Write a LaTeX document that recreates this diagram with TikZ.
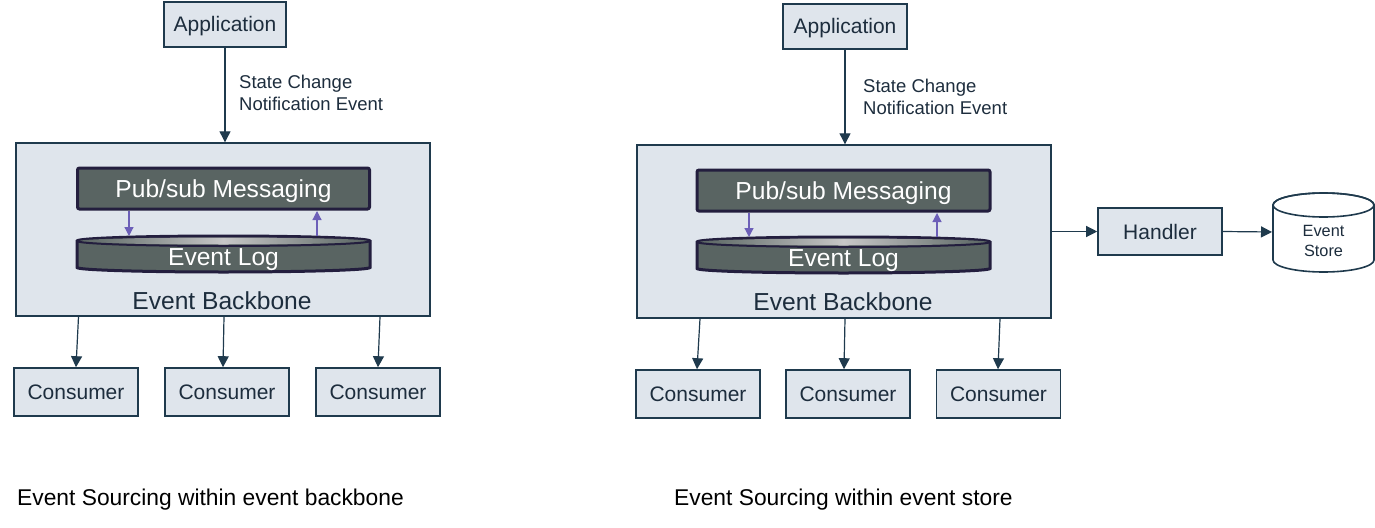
\documentclass[tikz,border=0pt]{standalone}
\usepackage{fontspec}
\setmainfont{Liberation Sans}
\usetikzlibrary{arrows.meta}
\definecolor{boxfill}{HTML}{DFE5EC}
\definecolor{boxline}{HTML}{1F3A4D}
\definecolor{txt}{HTML}{1D2D3D}
\definecolor{darkfill}{HTML}{596462}
\definecolor{darkline}{HTML}{231E3E}
\definecolor{purp}{HTML}{6C5FB8}
\newcommand\myfs[2]{\fontsize{#1}{#2}\selectfont}
\tikzset{
  tA/.style={font=\myfs{21}{25}, text height=17pt, text depth=2pt},
  tB/.style={font=\myfs{24.6}{29}, text height=19.6pt, text depth=2pt},
  box/.style={draw=boxline, fill=boxfill, line width=1.6pt, text=txt, inner sep=0pt, tA},
  backbone/.style={draw=boxline, fill=boxfill, line width=1.4pt, inner sep=0pt},
  darkbox/.style={draw=darkline, fill=darkfill, line width=3pt, rounded corners=2pt, text=white,
    inner sep=0pt, tB},
  arr/.style={draw=boxline, line width=1.2pt, -{Triangle[length=11pt,width=11pt]}},
  parr/.style={draw=purp, line width=1.2pt, -{Triangle[length=9pt,width=9pt]}},
  plain/.style={inner sep=0pt, text=txt},
}
\begin{document}
\begin{tikzpicture}[x=1pt,y=-1pt]
\useasboundingbox (0,0) rectangle (1375,527);
% ============ LEFT DIAGRAM ============
\node[box, minimum width=122, minimum height=45] (app1) at (225,24.5) {Application};
\node[plain, anchor=north west, align=left, font=\myfs{18.5}{22}] (lab1) at (239,75) {State Change\\Notification Event};
\node[backbone, minimum width=414, minimum height=173] (bb1) at (223,229.5) {};
\draw[arr] (app1.south) -- (app1.south |- bb1.north);
\node[darkbox, minimum width=292, minimum height=41] (pub1) at (223.5,188.5) {Pub/sub Messaging};
% event log cylinder
\filldraw[draw=darkline, fill=darkfill, line width=3pt]
  (77,241) -- (77,267.5) arc[start angle=180,end angle=360,x radius=146.5pt,y radius=4.5pt]
  -- (370,241) arc[start angle=0,end angle=180,x radius=146.5pt,y radius=5pt] -- cycle;
\shade[left color=darkfill, right color=darkfill, middle color=black!22]
  (223.5,241) ellipse [x radius=144pt, y radius=3.5pt];
\draw[darkline, line width=2pt] (77,241) arc[start angle=180,end angle=360,x radius=146.5pt,y radius=5pt];
\node[plain, text=white, tB] (log1) at (223.5,256.5) {Event Log};
\coordinate (log1a) at (129,236);
\coordinate (log1b) at (317,236);
\draw[parr] (log1a |- pub1.south) -- (log1a);
\draw[parr] (log1b) -- ([yshift=-0.5pt]log1b |- pub1.south);
\node[plain, tB] (bbl1) at (222,301) {Event Backbone};
% consumers
\node[box, minimum width=124, minimum height=48] (c11) at (76,392) {Consumer};
\node[box, minimum width=124, minimum height=48] (c12) at (227,392) {Consumer};
\node[box, minimum width=124, minimum height=48] (c13) at (378,392) {Consumer};
\draw[arr] ([xshift=2.5pt]c11.north |- bb1.south) -- (c11.north);
\draw[arr] ([xshift=-3pt]c12.north |- bb1.south) -- ([xshift=-4pt]c12.north);
\draw[arr] ([xshift=2pt]c13.north |- bb1.south) -- (c13.north);
\node[plain, text=black, anchor=west, font=\myfs{22.8}{27}] (cap1) at (17,500) {Event Sourcing within event backbone};
% ============ RIGHT DIAGRAM ============
\node[box, minimum width=124, minimum height=45] (app2) at (845,26.5) {Application};
\node[plain, anchor=north west, align=left, font=\myfs{18.5}{22}] (lab2) at (863,79) {State Change\\Notification Event};
\node[backbone, minimum width=414, minimum height=173] (bb2) at (844,231.5) {};
\draw[arr] (app2.south) -- (app2.south |- bb2.north);
\node[darkbox, minimum width=293, minimum height=41] (pub2) at (843.5,190.5) {Pub/sub Messaging};
\filldraw[draw=darkline, fill=darkfill, line width=3pt]
  (697,242) -- (697,268.5) arc[start angle=180,end angle=360,x radius=146.5pt,y radius=4.5pt]
  -- (990,242) arc[start angle=0,end angle=180,x radius=146.5pt,y radius=5pt] -- cycle;
\shade[left color=darkfill, right color=darkfill, middle color=black!22]
  (843.5,242) ellipse [x radius=144pt, y radius=3.5pt];
\draw[darkline, line width=2pt] (697,242) arc[start angle=180,end angle=360,x radius=146.5pt,y radius=5pt];
\node[plain, text=white, tB] (log2) at (843.5,257.5) {Event Log};
\coordinate (log2a) at (749,237);
\coordinate (log2b) at (937,237);
\draw[parr] (log2a |- pub2.south) -- (log2a);
\draw[parr] (log2b) -- ([yshift=-0.5pt]log2b |- pub2.south);
\node[plain, tB] (bbl2) at (843,302) {Event Backbone};
\node[box, minimum width=124, minimum height=48] (c21) at (698,394) {Consumer};
\node[box, minimum width=124, minimum height=48] (c22) at (848,394) {Consumer};
\node[box, minimum width=124, minimum height=48] (c23) at (998.5,394) {Consumer};
\draw[arr] ([xshift=2pt]c21.north |- bb2.south) -- ([xshift=-1pt]c21.north);
\draw[arr] ([xshift=-3pt]c22.north |- bb2.south) -- ([xshift=-4pt]c22.north);
\draw[arr] ([xshift=1.5pt]c23.north |- bb2.south) -- ([xshift=-0.5pt]c23.north);
% handler and store
\node[box, minimum width=124, minimum height=47] (hand) at (1160,231.5) {Handler};
\draw[arr] (bb2.east |- hand.west) -- (hand.west);
\filldraw[draw=boxline, fill=white, line width=1.6pt]
  (1273,205) -- (1273,260) arc[start angle=180,end angle=360,x radius=50.5pt,y radius=12pt]
  -- (1374,205) arc[start angle=0,end angle=180,x radius=50.5pt,y radius=12pt] -- cycle;
\draw[boxline, line width=1.6pt] (1323.5,205) ellipse [x radius=50.5pt, y radius=12pt];
\node[plain, align=center, font=\myfs{16.3}{20}] (store) at (1323.5,241) {Event\\Store};
\coordinate (storeW) at (1272,232);
\draw[arr] (hand.east) -- (storeW);
\node[plain, text=black, anchor=west, font=\myfs{22.8}{27}] (cap2) at (674,500) {Event Sourcing within event store};
\end{tikzpicture}
\end{document}
